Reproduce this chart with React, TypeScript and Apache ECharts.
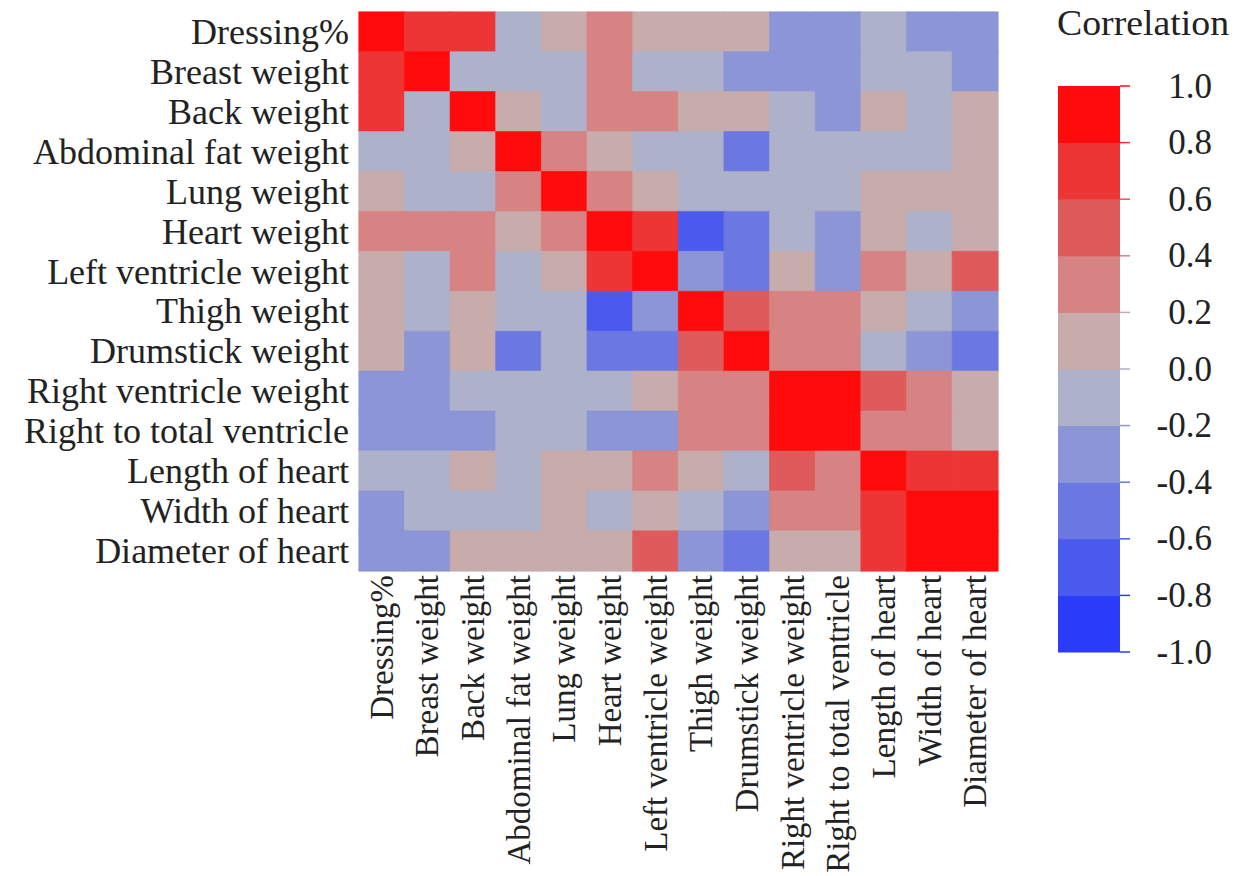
import { useEffect, useRef } from "react";
import * as echarts from "echarts";

const variables = [
  "Dressing%",
  "Breast weight",
  "Back weight",
  "Abdominal fat weight",
  "Lung weight",
  "Heart weight",
  "Left ventricle weight",
  "Thigh weight",
  "Drumstick weight",
  "Right ventricle weight",
  "Right to total ventricle",
  "Length of heart",
  "Width of heart",
  "Diameter of heart",
];

const corrDressing = [1.0, 0.72, 0.69, -0.08, 0.12, 0.31, 0.09, 0.11, 0.07, -0.28, -0.31, -0.06, -0.27, -0.33];
const corrBreast = [0.72, 1.0, -0.05, -0.12, -0.09, 0.27, -0.11, -0.04, -0.29, -0.26, -0.3, -0.1, -0.07, -0.25];
const corrBack = [0.69, -0.05, 1.0, 0.08, -0.13, 0.33, 0.36, 0.14, 0.1, -0.15, -0.24, 0.06, -0.09, 0.05];
const corrAbdFat = [-0.08, -0.12, 0.08, 1.0, 0.29, 0.13, -0.07, -0.11, -0.47, -0.06, -0.14, -0.03, -0.12, 0.04];
const corrLung = [0.12, -0.09, -0.13, 0.29, 1.0, 0.34, 0.15, -0.16, -0.1, -0.08, -0.05, 0.09, 0.11, 0.06];
const corrHeart = [0.31, 0.27, 0.33, 0.13, 0.34, 1.0, 0.74, -0.66, -0.45, -0.04, -0.28, 0.07, -0.13, 0.1];
const corrLeftVent = [0.09, -0.11, 0.36, -0.07, 0.15, 0.74, 1.0, -0.23, -0.49, 0.12, -0.32, 0.26, 0.08, 0.54];
const corrThigh = [0.11, -0.04, 0.14, -0.11, -0.16, -0.66, -0.23, 1.0, 0.57, 0.32, 0.28, 0.1, -0.09, -0.3];
const corrDrumstick = [0.07, -0.29, 0.1, -0.47, -0.1, -0.45, -0.49, 0.57, 1.0, 0.3, 0.34, -0.12, -0.26, -0.44];
const corrRightVent = [-0.28, -0.26, -0.15, -0.06, -0.08, -0.04, 0.12, 0.32, 0.3, 1.0, 0.96, 0.52, 0.31, 0.13];
const corrRightTotal = [-0.31, -0.3, -0.24, -0.14, -0.05, -0.28, -0.32, 0.28, 0.34, 0.96, 1.0, 0.29, 0.33, 0.09];
const corrLength = [-0.06, -0.1, 0.06, -0.03, 0.09, 0.07, 0.26, 0.1, -0.12, 0.52, 0.29, 1.0, 0.76, 0.71];
const corrWidth = [-0.27, -0.07, -0.09, -0.12, 0.11, -0.13, 0.08, -0.09, -0.26, 0.31, 0.33, 0.76, 1.0, 0.92];
const corrDiameter = [-0.33, -0.25, 0.05, 0.04, 0.06, 0.1, 0.54, -0.3, -0.44, 0.13, 0.09, 0.71, 0.92, 1.0];

const corrRows = [
  corrDressing, corrBreast, corrBack, corrAbdFat, corrLung, corrHeart, corrLeftVent,
  corrThigh, corrDrumstick, corrRightVent, corrRightTotal, corrLength, corrWidth, corrDiameter,
];

const legendBreaks = [-1.0, -0.8, -0.6, -0.4, -0.2, 0.0, 0.2, 0.4, 0.6, 0.8, 1.0];
const binColors = [
  "#2a3cfa", "#4a5aee", "#6b78e1", "#8c95d6", "#adb1c9",
  "#c8abab", "#d78383", "#df5a5a", "#ee3535", "#ff0b0b",
];
const legendTitle = "Correlation";

function binIndex(v: number): number {
  for (let i = 0; i < binColors.length; i++) {
    if (v < legendBreaks[i + 1]) return i;
  }
  return binColors.length - 1;
}

export default function App() {
  const ref = useRef<HTMLDivElement>(null);
  useEffect(() => {
    if (!ref.current) return;
    const chart = echarts.init(ref.current, null, { renderer: "svg" });
    const font = "Liberation Serif, Times New Roman, serif";
    const textColor = "#222222";

    const cells: any[] = [];
    corrRows.forEach((row, r) =>
      row.forEach((v, c) => {
        const col = binColors[binIndex(v)];
        cells.push({
          value: [c, r, v],
          itemStyle: { borderColor: col, borderWidth: 0.6 },
        });
      })
    );
    const bins = binColors.map((_, i) => [0, legendBreaks[i], legendBreaks[i + 1], i]);
    const pieces = binColors.map((color, i) =>
      i === binColors.length - 1
        ? { gte: legendBreaks[i], lte: legendBreaks[i + 1], color }
        : { gte: legendBreaks[i], lt: legendBreaks[i + 1], color }
    );

    chart.setOption({
      animation: false,
      backgroundColor: "#ffffff",
      textStyle: { fontFamily: font },
      graphic: [
        {
          type: "text",
          x: 1057,
          y: 6,
          scaleX: 1.08,
          style: {
            text: legendTitle,
            font: "normal 35px 'Liberation Serif', 'Times New Roman', serif",
            fill: textColor,
          },
        },
      ],
      visualMap: {
        type: "piecewise",
        show: false,
        seriesIndex: 0,
        dimension: 2,
        pieces,
      },
      grid: [
        { left: 359, top: 12, width: 639, height: 559 },
        { left: 1058, top: 86, width: 62, height: 566 },
      ],
      xAxis: [
        {
          type: "category",
          gridIndex: 0,
          data: variables,
          axisLine: { show: false },
          axisTick: { show: false },
          splitLine: { show: false },
          axisLabel: {
            rotate: 90,
            interval: 0,
            margin: 4,
            fontFamily: font,
            fontSize: 33,
            color: textColor,
            padding: [0, 0, 10, 0],
          },
        },
        { type: "category", gridIndex: 1, data: ["bar"], show: false },
      ],
      yAxis: [
        {
          type: "category",
          gridIndex: 0,
          data: variables,
          inverse: true,
          axisLine: { show: false },
          axisTick: { show: false },
          splitLine: { show: false },
          axisLabel: {
            interval: 0,
            margin: 10,
            fontFamily: font,
            fontSize: 36,
            color: textColor,
            padding: [0, 0, 10, 0],
          },
        },
        {
          type: "value",
          gridIndex: 1,
          min: -1,
          max: 1,
          interval: 0.2,
          position: "right",
          axisLine: { show: false },
          axisTick: { show: false },
          splitLine: { show: false },
          axisLabel: {
            formatter: (v: number) => v.toFixed(1),
            align: "right",
            margin: 92,
            fontFamily: font,
            fontSize: 35,
            color: textColor,
          },
        },
      ],
      series: [
        {
          type: "heatmap",
          xAxisIndex: 0,
          yAxisIndex: 0,
          data: cells,
          emphasis: { disabled: true },
        },
        {
          type: "custom",
          xAxisIndex: 1,
          yAxisIndex: 1,
          data: bins,
          encode: { x: 0, y: [1, 2] },
          renderItem: (params: any, api: any) => {
            const lo = api.value(1);
            const hi = api.value(2);
            const ci = api.value(3);
            const top = api.coord([0, hi]);
            const bot = api.coord([0, lo]);
            const bw = api.size([1, 0])[0];
            const x0 = top[0] - bw / 2;
            const color = binColors[ci];
            const children: any[] = [
              {
                type: "rect",
                shape: { x: x0, y: top[1], width: bw, height: bot[1] - top[1] + 0.5 },
                style: { fill: color },
              },
              {
                type: "line",
                shape: { x1: x0 + bw, y1: top[1], x2: x0 + bw + 10, y2: top[1] },
                style: { stroke: color, lineWidth: 1.5 },
              },
            ];
            if (ci === 0) {
              children.push({
                type: "line",
                shape: { x1: x0 + bw, y1: bot[1], x2: x0 + bw + 10, y2: bot[1] },
                style: { stroke: color, lineWidth: 1.5 },
              });
            }
            return { type: "group", children };
          },
        },
      ],
    });
    return () => chart.dispose();
  }, []);

  return (
    <div
      ref={ref}
      style={{ position: "absolute", left: 0, top: 0, width: 1240, height: 876 }}
    />
  );
}
